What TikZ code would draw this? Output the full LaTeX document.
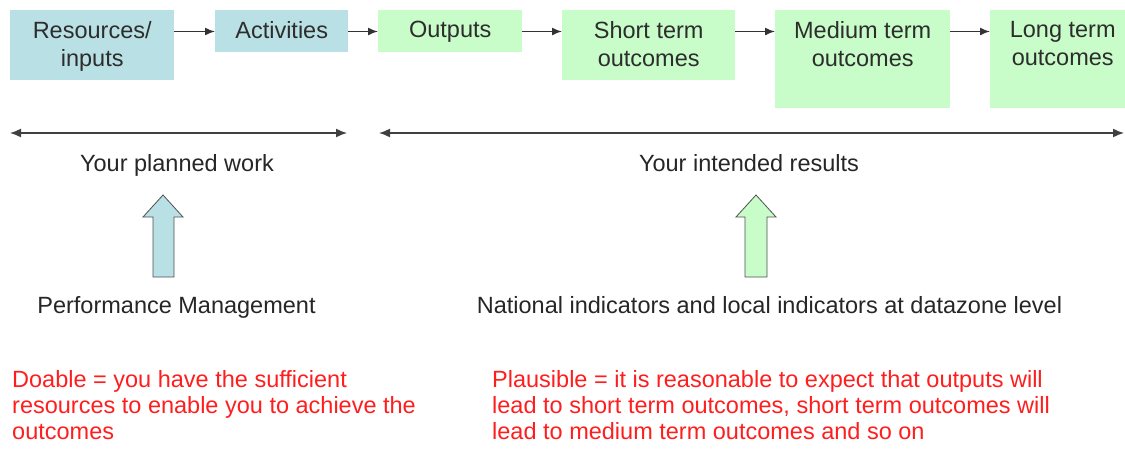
\documentclass[tikz,border=0pt]{standalone}
\usepackage{fontspec}
\setmainfont{Liberation Sans}
\usetikzlibrary{arrows.meta}
\definecolor{bluebox}{RGB}{185,224,228}
\definecolor{greenbox}{RGB}{200,252,200}
\definecolor{boxtext}{RGB}{45,45,45}
\definecolor{redtext}{RGB}{255,30,30}
\definecolor{outline}{RGB}{80,80,80}
\begin{document}
\begin{tikzpicture}[x=1pt,y=-1pt,
  stagebox/.style={rectangle, draw=none, inner sep=0pt, anchor=north west},
  bluestage/.style={stagebox, fill=bluebox},
  greenstage/.style={stagebox, fill=greenbox},
  boxlabel/.style={inner sep=0pt, anchor=north, align=center, text=boxtext, font=\fontsize{23.5}{28}\selectfont},
  flow/.style={-{Latex[length=10pt,width=8pt]}, line width=1.5pt, draw=black!80},
  span/.style={{Latex[length=11pt,width=9pt]}-{Latex[length=11pt,width=9pt]}, line width=1.5pt, draw=black!75},
  plain/.style={inner sep=0pt, anchor=base, text=black!85, font=\fontsize{23.5}{28}\selectfont},
  note/.style={inner sep=0pt, anchor=north west, align=left, text=redtext, font=\fontsize{23.5}{26}\selectfont},
  blockarrow/.style={draw=outline, line width=0.8pt, line join=miter},
]
\useasboundingbox (0,0) rectangle (1125,448);
\clip (0,0) rectangle (1125,448);

% stage boxes
\node[bluestage, minimum width=164pt, minimum height=70pt] (res) at (10,10) {};
\node[bluestage, minimum width=133pt, minimum height=42pt] (act) at (215,10) {};
\node[greenstage, minimum width=144pt, minimum height=42pt] (out) at (378,10) {};
\node[greenstage, minimum width=173pt, minimum height=70pt] (short) at (562,10) {};
\node[greenstage, minimum width=175pt, minimum height=98pt] (med) at (775,10) {};
\node[greenstage, minimum width=145pt, minimum height=98pt] (long) at (990,10) {};

% box texts
\node[boxlabel] (restext) at (res.north |- 0,21) {Resources/\\inputs};
\node[boxlabel] (acttext) at (act.north |- 0,21) {Activities};
\node[boxlabel] (outtext) at (out.north |- 0,21) {Outputs};
\node[boxlabel] (shorttext) at (short.north |- 0,21) {Short term\\outcomes};
\node[boxlabel] (medtext) at (med.north |- 0,21) {Medium term\\outcomes};
\node[boxlabel] (longtext) at (long.north |- 0,21) {Long term\\outcomes};

% flow arrows
\coordinate (fy) at (0,31.5);
\draw[flow] (res.east |- fy) -- (act.west |- fy);
\draw[flow] (act.east |- fy) -- (out.west |- fy);
\draw[flow] (out.east |- fy) -- (short.west |- fy);
\draw[flow] (short.east |- fy) -- (med.west |- fy);
\draw[flow] (med.east |- fy) -- (long.west |- fy);

% span arrows
\coordinate (pwA) at (10,133);
\coordinate (pwB) at (347,133);
\coordinate (irA) at (379,133);
\coordinate (irB) at (1124,133);
\draw[span] (pwA) -- (pwB);
\draw[span] (irA) -- (irB);

\node[plain] (planned) at (177,171) {Your planned work};
\node[plain] (intended) at (749,171) {Your intended results};

% block arrows
\draw[blockarrow, fill=bluebox] (163,195) -- (183,217) -- (174,217) -- (174,277) -- (153,277) -- (153,217) -- (143,217) -- cycle;
\draw[blockarrow, fill=greenbox] (756,195) -- (776,217) -- (767,217) -- (767,277) -- (745,277) -- (745,217) -- (736,217) -- cycle;

\node[plain] (perf) at (176.5,313) {Performance Management};
\node[plain] (natl) at (769.5,313) {National indicators and local indicators at datazone level};

% notes
\node[note] (doable) at (12,370) {Doable = you have the sufficient\\resources to enable you to achieve the\\outcomes};
\node[note] (plausible) at (492,370) {Plausible = it is reasonable to expect that outputs will\\lead to short term outcomes, short term outcomes will\\lead to medium term outcomes and so on};
\end{tikzpicture}
\end{document}
